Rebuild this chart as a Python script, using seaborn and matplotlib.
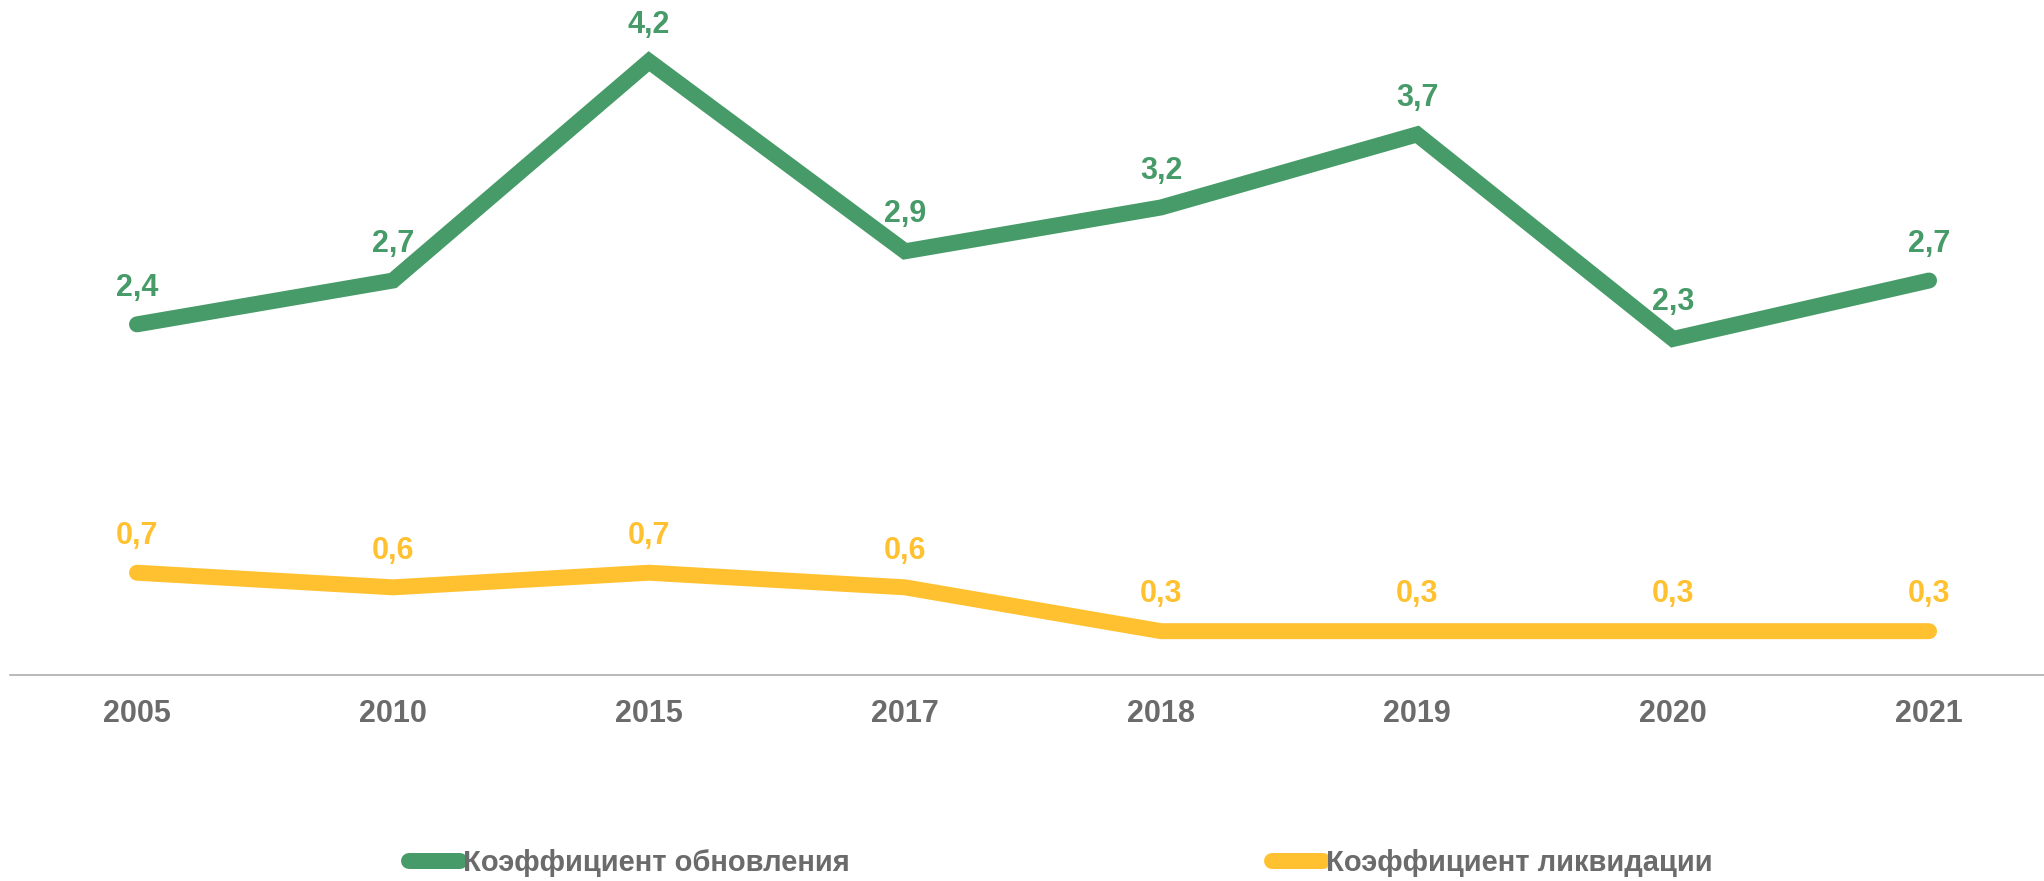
import matplotlib
matplotlib.use('Agg')
import matplotlib.pyplot as plt
from matplotlib.lines import Line2D
import seaborn as sns
import pandas as pd

years = ['2005', '2010', '2015', '2017', '2018', '2019', '2020', '2021']
renewal = [2.4, 2.7, 4.2, 2.9, 3.2, 3.7, 2.3, 2.7]
liquidation = [0.7, 0.6, 0.7, 0.6, 0.3, 0.3, 0.3, 0.3]
series_names = ['Коэффициент обновления', 'Коэффициент ликвидации']
colors = ['#469B68', '#FFC12F']

sns.set_style('white')
plt.rcParams['font.family'] = ['Liberation Sans', 'DejaVu Sans']

df = pd.DataFrame({
    'year': years * 2,
    'value': renewal + liquidation,
    'series': [series_names[0]] * len(years) + [series_names[1]] * len(years),
})

fig = plt.figure(figsize=(20.44, 8.81), dpi=100)
ax = fig.add_axes([10 / 2044, 206 / 881, 2034 / 2044, 675 / 881])

sns.lineplot(data=df, x='year', y='value', hue='series',
             palette=dict(zip(series_names, colors)), linewidth=11.5,
             legend=False, ax=ax, solid_capstyle='round', solid_joinstyle='miter')

# value labels above points
for vals, col in zip([renewal, liquidation], colors):
    for i, v in enumerate(vals):
        ax.annotate(f'{v:.1f}'.replace('.', ','), (i, v), xytext=(0, 26.5),
                    textcoords='offset points', ha='center', va='center',
                    fontsize=22, fontweight='bold', color=col)

ax.set_xlim(-0.496, 7.449)
ax.set_ylim(0, 4.62)
ax.set_yticks([])
ax.set_xlabel('')
ax.set_ylabel('')
for s in ['top', 'left', 'right']:
    ax.spines[s].set_visible(False)
ax.spines['bottom'].set_color('#A6A6A6')
ax.spines['bottom'].set_linewidth(1.1)
ax.tick_params(axis='x', length=0, pad=17, labelsize=22, labelcolor='#6B6B6B')
for lbl in ax.get_xticklabels():
    lbl.set_fontweight('bold')

handles = [Line2D([0], [0], color=c, lw=11.5, solid_capstyle='round') for c in colors]
fig.legend(handles, series_names, loc='center', bbox_to_anchor=(0.519, 0.02),
           ncol=2, frameon=False, handlelength=1.75, handletextpad=0.1,
           columnspacing=14.5, prop={'size': 21, 'weight': 'bold'},
           labelcolor='#6B6B6B')

fig.savefig('out.png', dpi=100)
